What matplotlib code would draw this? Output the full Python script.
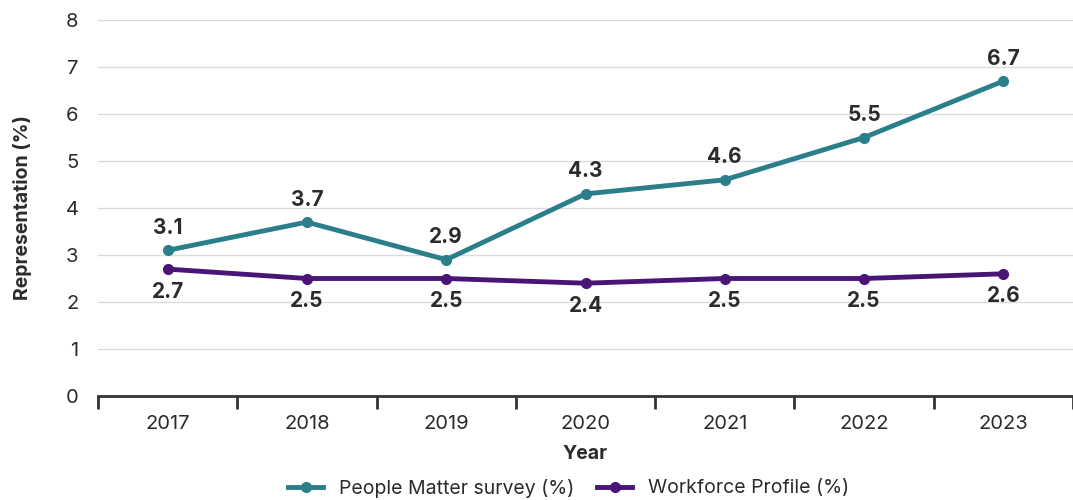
import matplotlib.pyplot as plt
import numpy as np

years = ['2017', '2018', '2019', '2020', '2021', '2022', '2023']
people_matter = [3.1, 3.7, 2.9, 4.3, 4.6, 5.5, 6.7]
workforce = [2.7, 2.5, 2.5, 2.4, 2.5, 2.5, 2.6]

teal = '#2b7f8b'
purple = '#4a1577'
text_col = '#2b2b2b'

plt.rcParams['font.family'] = ['Inter', 'DejaVu Sans']

fig = plt.figure(figsize=(10.73, 5), dpi=100)
ax = fig.add_axes([98 / 1073, 1 - 396 / 500, 1 - 98 / 1073, 376 / 500])

x = np.arange(len(years))
ax.plot(x, people_matter, color=teal, lw=3.5, marker='o', ms=7, label='People Matter survey (%)', zorder=3)
ax.plot(x, workforce, color=purple, lw=3.5, marker='o', ms=7, label='Workforce Profile (%)', zorder=3)

# value labels: above for survey, below for profile
for xi, v in zip(x, people_matter):
    ax.annotate(f'{v:.1f}', (xi, v), xytext=(0, 9), textcoords='offset points',
                ha='center', va='bottom', fontsize=15, fontweight='bold', color=text_col)
for xi, v in zip(x, workforce):
    ax.annotate(f'{v:.1f}', (xi, v), xytext=(0, -9), textcoords='offset points',
                ha='center', va='top', fontsize=15, fontweight='bold', color=text_col)

ax.set_xlim(-0.5, len(years) - 0.5)
ax.set_ylim(0, 8)
ax.set_yticks(range(0, 9))
ax.grid(axis='y', color='#d8dce2', lw=1)
ax.set_axisbelow(True)

# category labels centred, tick marks on the boundaries
ax.set_xticks(x)
ax.set_xticklabels(years)
ax.set_xticks(np.arange(-0.5, len(years), 1), minor=True)
ax.tick_params(axis='x', which='major', length=0, pad=14, labelsize=14.5, labelcolor=text_col)
ax.tick_params(axis='x', which='minor', length=9, width=2, color='#333333', direction='out')
ax.tick_params(axis='y', length=0, pad=14, labelsize=14.5, labelcolor=text_col)

for s in ['top', 'right', 'left']:
    ax.spines[s].set_visible(False)
ax.spines['bottom'].set_color('#333333')
ax.spines['bottom'].set_linewidth(2)

ax.set_xlabel('Year', fontsize=14, fontweight='bold', color=text_col, labelpad=8)
ax.set_ylabel('Representation (%)', fontsize=14, fontweight='bold', color=text_col, labelpad=24)

fig.legend(loc='lower center', bbox_to_anchor=(0.53, -0.03), ncol=2, frameon=False,
           fontsize=14, handlelength=1.8, columnspacing=1.2, labelcolor=text_col)

plt.savefig('out.png', dpi=100)
